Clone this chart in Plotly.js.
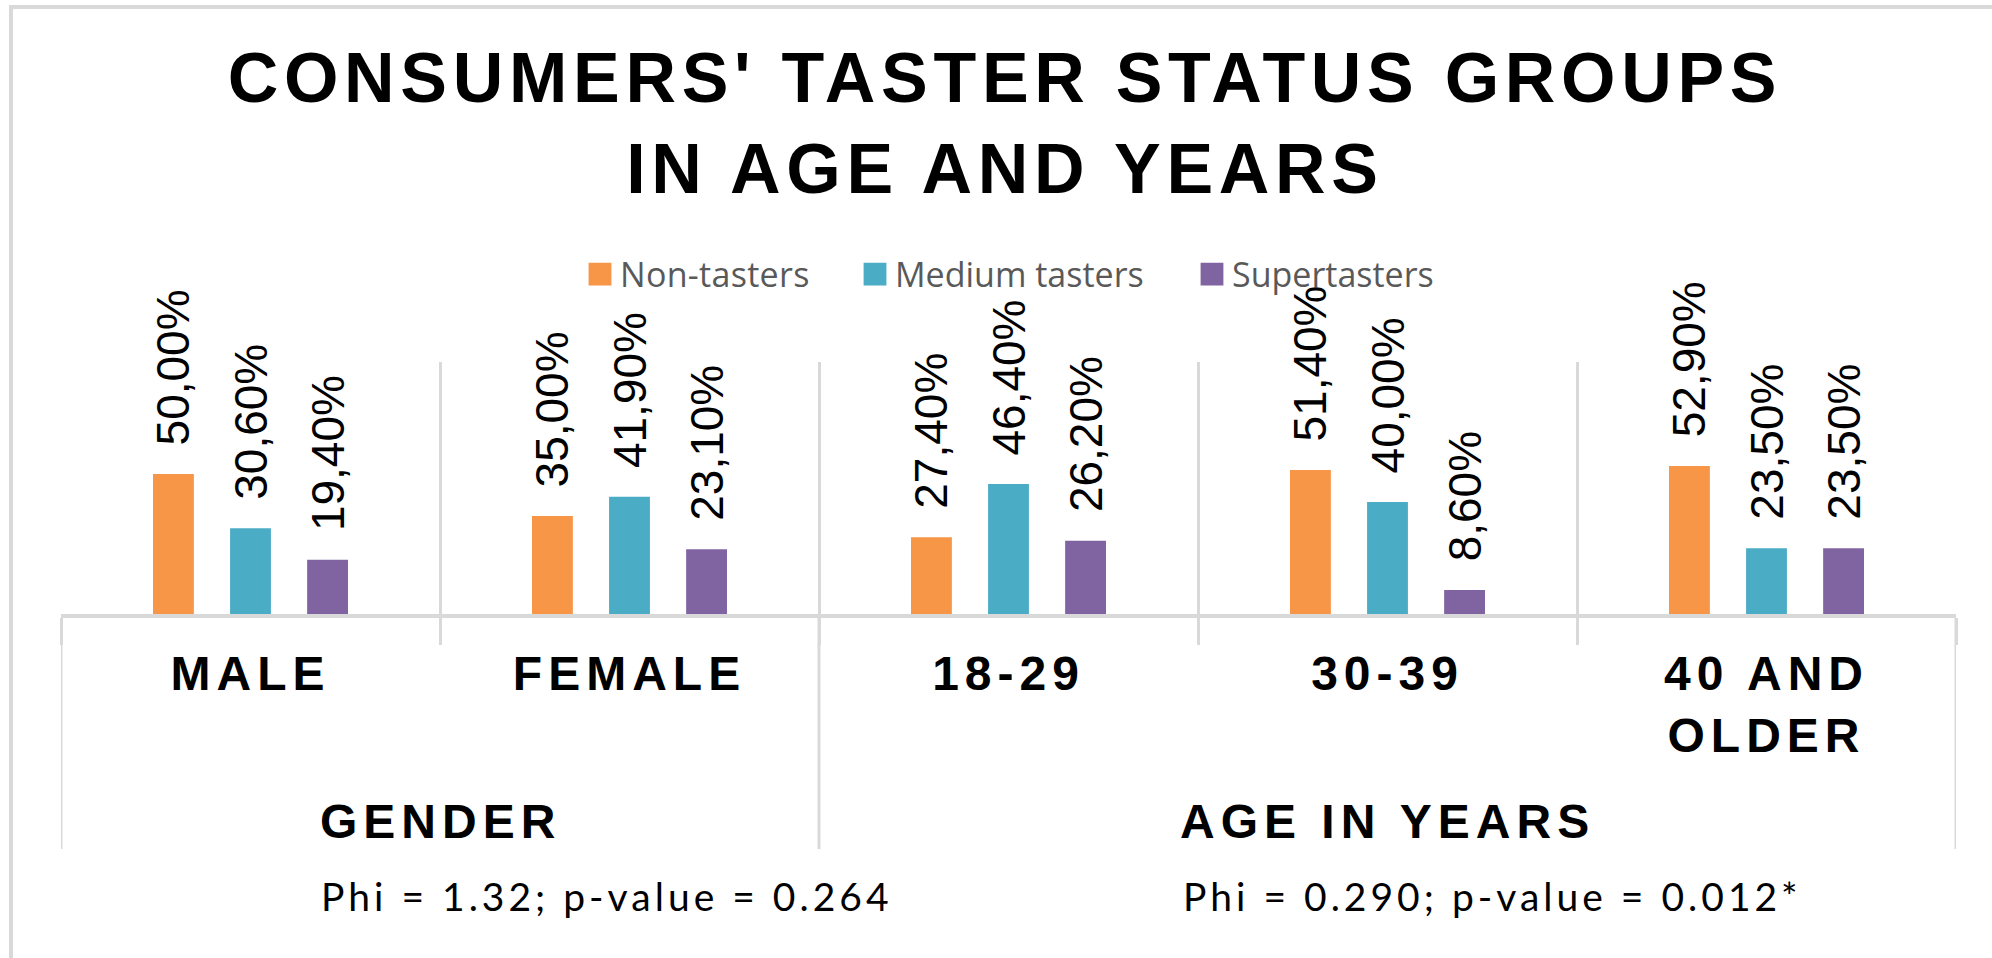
<!DOCTYPE html>
<html><head><meta charset="utf-8">
<script src="https://cdn.plot.ly/plotly-3.0.1.min.js"></script>
<style>
html,body{margin:0;padding:0;background:#fff;}
#chart{width:1992px;height:958px;}
.xtick text{letter-spacing:6px;}
.gtitle{letter-spacing:5.7px;}
.legendtext{letter-spacing:0.3px;}
</style></head>
<body><div id="chart"></div>
<script>
const categories = ['MALE', 'FEMALE', '18-29', '30-39', '40 AND<br>OLDER'];
const groups = ['GENDER', 'AGE IN YEARS'];
const groupSizes = [2, 3];
const groupStats = ['Phi = 1.32; p-value = 0.264', 'Phi = 0.290; p-value = 0.012*'];
const seriesNames = ['Non-tasters', 'Medium tasters', 'Supertasters'];
const nonTasters = [50.0, 35.0, 27.4, 51.4, 52.9];
const mediumTasters = [30.6, 41.9, 46.4, 40.0, 23.5];
const superTasters = [19.4, 23.1, 26.2, 8.6, 23.5];
const titleText = "CONSUMERS' TASTER STATUS GROUPS<br>IN AGE AND YEARS";

const colors = ['#F79646', '#4BACC6', '#8064A2'];
const seriesValues = [nonTasters, mediumTasters, superTasters];
const legendIds = ['legend', 'legend2', 'legend3'];
const NB = '\u00a0\u00a0';

const traces = seriesValues.map((vals, i) => ({
  type: 'bar',
  name: seriesNames[i],
  x: categories,
  y: vals,
  marker: {color: colors[i]},
  texttemplate: NB + '%{y:.2f}%',
  textposition: 'outside',
  textangle: -90,
  constraintext: 'none',
  cliponaxis: false,
  textfont: {family: 'Liberation Sans, Arial, sans-serif', size: 46, color: '#000'},
  legend: legendIds[i],
  hoverinfo: 'skip'
}));

// plot area: x 61..1956, y 362..614
const L = 61, R = 1956, T = 362, B = 614, W = 1992, H = 958;
const px = v => (v - L) / (R - L);
const py = v => (B - v) / (B - T);

const shapes = [];
const annotations = [];
let start = -0.5;
const groupHalfWidths = [121, 207];
groups.forEach((g, i) => {
  if (i === 0) shapes.push({type: 'line', xref: 'x', yref: 'paper', x0: start, x1: start, y0: 0, y1: py(849), line: {color: '#d9d9d9', width: 3}});
  const end = start + groupSizes[i];
  shapes.push({type: 'line', xref: 'x', yref: 'paper', x0: end, x1: end, y0: 0, y1: py(849), line: {color: '#d9d9d9', width: 3}});
  const center = (start + end) / 2;
  annotations.push({
    xref: 'x', yref: 'paper', x: center, y: py(821), xanchor: 'center', yanchor: 'middle',
    text: '<span style="letter-spacing:6px">' + g + '</span>', showarrow: false,
    font: {family: 'Liberation Sans, Arial, sans-serif', size: 48, color: '#000', weight: 700}
  });
  annotations.push({
    xref: 'x', yref: 'paper', x: center, y: py(896), xanchor: 'left', yanchor: 'middle', xshift: -groupHalfWidths[i],
    text: '<span style="letter-spacing:4px">' + groupStats[i] + '</span>', showarrow: false,
    font: {family: 'Lato, sans-serif', size: 39, color: '#000'}
  });
  start = end;
});

// outer frame (left and top edges)
shapes.push({type: 'line', xref: 'paper', yref: 'paper', x0: px(11), x1: px(11), y0: py(5), y1: py(965), line: {color: '#d9d9d9', width: 4}});
shapes.push({type: 'line', xref: 'paper', yref: 'paper', x0: px(9), x1: px(2000), y0: py(7), y1: py(7), line: {color: '#d9d9d9', width: 4}});

const legendBase = {orientation: 'h', yanchor: 'middle', xanchor: 'left', y: py(274.5),
  font: {family: 'Open Sans, sans-serif', size: 34, color: '#595959'}, bgcolor: 'rgba(0,0,0,0)'};

const layout = {
  width: W, height: H,
  margin: {l: L, r: W - R, t: T, b: H - B, pad: 0},
  paper_bgcolor: '#fff', plot_bgcolor: '#fff',
  separators: ',.',
  barmode: 'group', bargap: 0.39, bargroupgap: 0.47,
  title: {
    text: titleText, x: 0.5045, xanchor: 'center', yref: 'container', y: 1 - 102 / H, yanchor: 'top',
    font: {family: 'Liberation Sans, Arial, sans-serif', size: 70, color: '#000', weight: 700}
  },
  xaxis: {
    type: 'category', range: [-0.5, 4.5], tickson: 'boundaries',
    ticks: 'outside', ticklen: 27, tickwidth: 3, tickcolor: '#d9d9d9',
    showgrid: true, gridcolor: '#d9d9d9', gridwidth: 3,
    showline: true, linecolor: '#d9d9d9', linewidth: 4,
    tickangle: 0, zeroline: false, ticklabelstandoff: 14,
    tickfont: {family: 'Liberation Sans, Arial, sans-serif', size: 48, color: '#000', weight: 700}
  },
  yaxis: {range: [0, 90], visible: false, showgrid: false, zeroline: false},
  showlegend: true,
  legend: Object.assign({}, legendBase, {x: px(580)}),
  legend2: Object.assign({}, legendBase, {x: px(855)}),
  legend3: Object.assign({}, legendBase, {x: px(1192)}),
  shapes: shapes,
  annotations: annotations,
  hovermode: false
};

Plotly.newPlot('chart', traces, layout, {staticPlot: true, displayModeBar: false}).then(() => {
  // enlarge the legend colour keys to match the reference squares
  document.querySelectorAll('.legendpoints path').forEach(p => {
    const t = p.getAttribute('transform') || '';
    p.setAttribute('transform', t + ' scale(1.9)');
  });
});
</script>
</body></html>
